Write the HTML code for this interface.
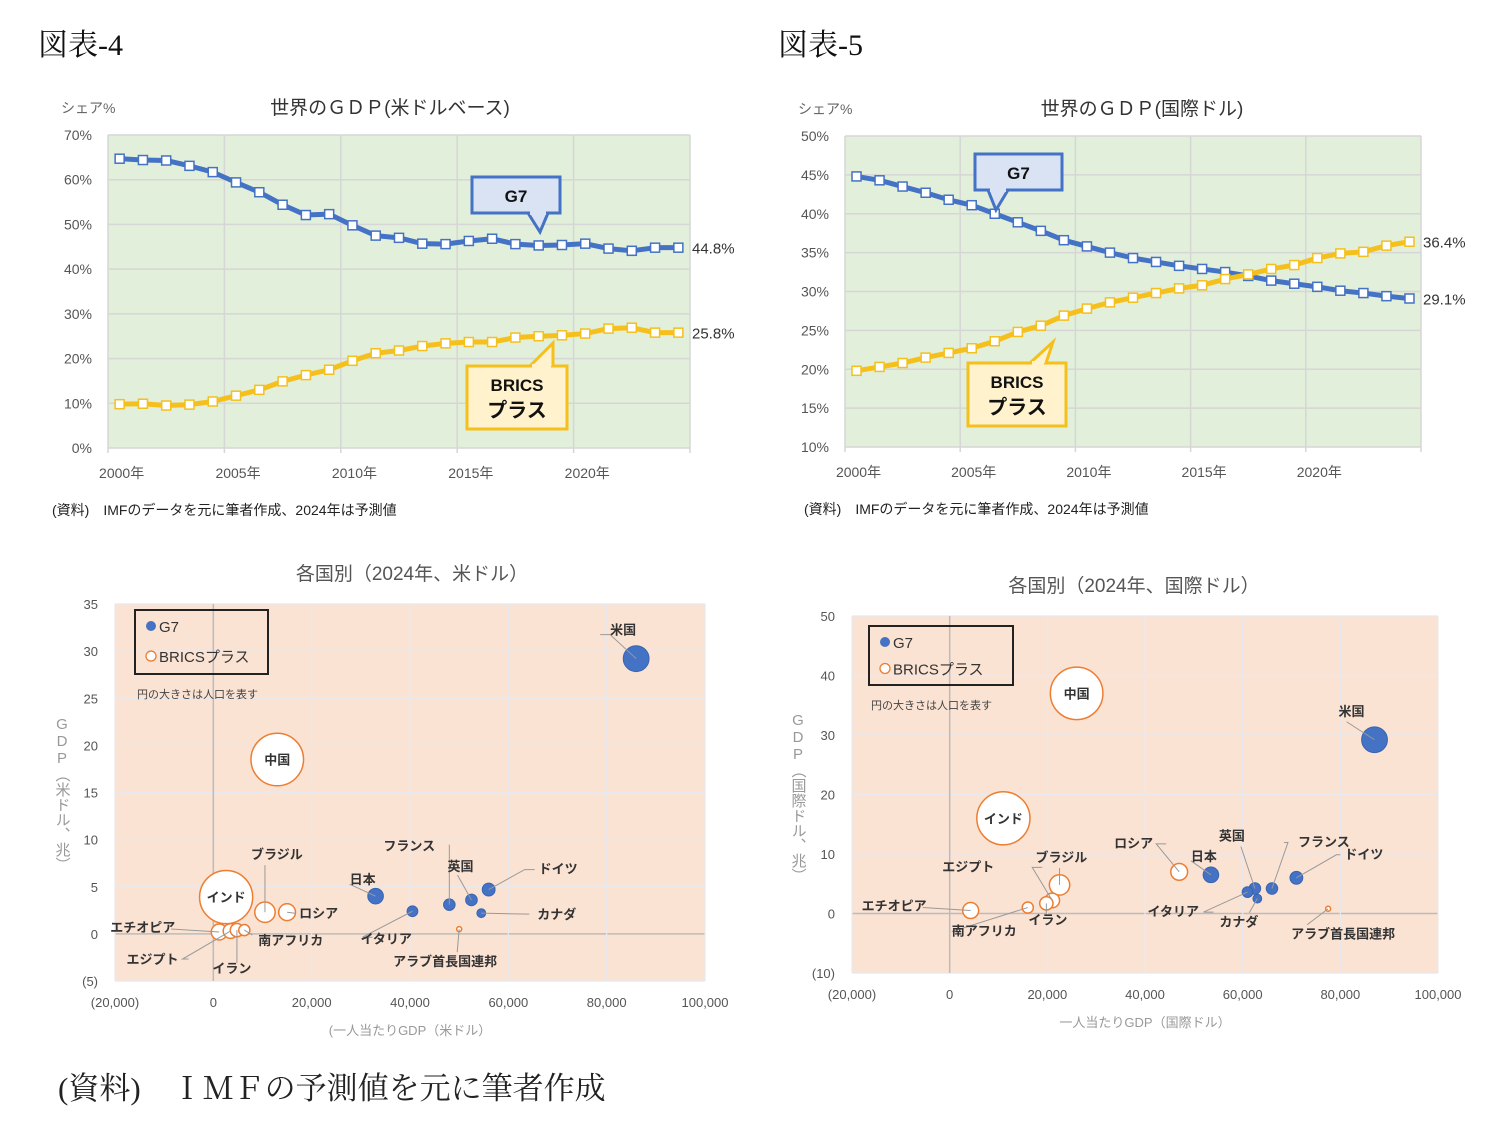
<!DOCTYPE html>
<html><head><meta charset="utf-8">
<style>
html,body{margin:0;padding:0;background:#fff;}
svg{display:block;font-family:"Liberation Sans","Noto Sans CJK JP",sans-serif;}
.ser{font-family:"Liberation Serif","Noto Serif CJK SC",serif;}
.vt{writing-mode:vertical-rl;text-orientation:upright;}
</style></head>
<body>
<svg id="page" width="1512" height="1135" viewBox="0 0 1512 1135" xmlns="http://www.w3.org/2000/svg">
<text class="ser" x="38" y="55" font-size="30" fill="#111">図表-4</text>
<text class="ser" x="778" y="55" font-size="30" fill="#111">図表-5</text>
<text x="52" y="515" font-size="14" fill="#222">(資料)　IMFのデータを元に筆者作成、2024年は予測値</text>
<text x="804" y="514" font-size="14" fill="#222">(資料)　IMFのデータを元に筆者作成、2024年は予測値</text>
<text class="ser" x="58" y="1099" font-size="31" fill="#222">(資料)　ＩＭＦの予測値を元に筆者作成</text>
<g id="c1"></g><g id="c2"></g><g id="s1"></g><g id="s2"></g>
</svg>
<script>
// ---- line chart data ----
const years = ['2000','2001','2002','2003','2004','2005','2006','2007','2008','2009','2010','2011','2012','2013','2014','2015','2016','2017','2018','2019','2020','2021','2022','2023','2024'];
const yearTicks = ['2000年','2005年','2010年','2015年','2020年'];
const g7Usd = [64.7,64.4,64.3,63.1,61.7,59.4,57.2,54.4,52.1,52.3,49.8,47.5,47.0,45.7,45.6,46.3,46.8,45.6,45.3,45.4,45.7,44.6,44.1,44.8,44.8];
const bricsUsd = [9.8,9.9,9.5,9.7,10.4,11.7,13.0,14.9,16.3,17.5,19.5,21.2,21.8,22.8,23.4,23.7,23.7,24.7,25.0,25.2,25.6,26.7,26.9,25.8,25.8];
const g7Ppp = [44.8,44.3,43.5,42.7,41.8,41.1,40.0,38.9,37.8,36.6,35.8,35.0,34.3,33.8,33.3,32.9,32.5,32.0,31.4,31.0,30.6,30.1,29.8,29.4,29.1];
const bricsPpp = [19.8,20.3,20.8,21.5,22.1,22.7,23.6,24.8,25.6,26.9,27.8,28.6,29.2,29.8,30.4,30.8,31.6,32.2,32.9,33.4,34.3,34.9,35.1,35.9,36.4];
const yTicksUsd = [0,10,20,30,40,50,60,70];
const yTicksPpp = [10,15,20,25,30,35,40,45,50];
// ---- scatter data ----
const countriesUsd = ['米国','中国','インド','ブラジル','ロシア','エチオピア','エジプト','イラン','南アフリカ','日本','イタリア','フランス','英国','ドイツ','カナダ','アラブ首長国連邦'];
const groupUsd = ['g','b','b','b','b','b','b','b','b','g','g','g','g','g','g','b'];
const perCapUsd = [86000,13000,2600,10500,15000,1200,3500,4800,6300,33000,40500,48000,52500,56000,54500,50000];
const gdpUsd = [29.2,18.5,3.9,2.3,2.3,0.2,0.3,0.4,0.4,4.0,2.4,3.1,3.6,4.7,2.2,0.5];
const popUsd = [340,1410,1440,212,144,130,110,90,63,124,59,68,69,84,40,10];
const countriesPpp = ['米国','中国','インド','ブラジル','ロシア','エチオピア','エジプト','イラン','南アフリカ','日本','イタリア','フランス','英国','ドイツ','カナダ','アラブ首長国連邦'];
const groupPpp = groupUsd;
const perCapPpp = [87000,26000,11000,22500,47000,4300,21000,19800,16000,53500,61000,66000,62500,71000,63000,77500];
const gdpPpp = [29.2,37.0,16.0,4.8,7.0,0.5,2.2,1.7,1.0,6.5,3.6,4.2,4.2,6.0,2.5,0.8];
const popPpp = popUsd;
const xTicks = [-20000,0,20000,40000,60000,80000,100000];
const yTicksS1 = [-5,0,5,10,15,20,25,30,35];
const yTicksS2 = [-10,0,10,20,30,40,50];

const NS='http://www.w3.org/2000/svg';
function mk(parent, tag, attrs, text){const e=document.createElementNS(NS,tag);for(const k in attrs)e.setAttribute(k,attrs[k]);if(text!==undefined)e.textContent=text;parent.appendChild(e);return e;}
function fmt(v){const s=Math.abs(v).toLocaleString('en-US');return v<0?'('+s+')':s;}

function lineChart(gid, L, g7, br, yt, title, callouts){
  const g=document.getElementById(gid);
  const yS=v=>L.y1-(v-yt[0])/(yt[yt.length-1]-yt[0])*(L.y1-L.y0);
  const bw=(L.x1-L.x0)/years.length;
  const xS=i=>L.x0+bw*(i+0.5);
  let r=mk(g,'rect',{x:L.x0,y:L.y0,width:L.x1-L.x0,height:L.y1-L.y0,fill:'#E2EFDA'});
  
  
  yt.forEach(v=>{
    let l=mk(g,'line',{x1:L.x0,x2:L.x1,y1:yS(v),y2:yS(v),stroke:'#d6d6d6','stroke-width':1.5});
    
    
    let t=mk(g,'text',{x:L.x0-16,y:yS(v)+5,'text-anchor':'end','font-size':14,fill:'#555'},v+'%');
    
    
  });
  for(let i=0;i<=years.length;i+=5){
    const x=L.x0+bw*i;
    let l=mk(g,'line',{x1:x,x2:x,y1:L.y0,y2:L.y1+5,stroke:'#d6d6d6','stroke-width':1.5});
    
    
  }
  yearTicks.forEach((lab,k)=>{
    let t=mk(g,'text',{x:xS(k*5)+2,y:L.y1+30,'text-anchor':'middle','font-size':14,fill:'#555'},lab);
    
    
  });
  let yt2=mk(g,'text',{x:L.x0-47,y:L.y0-22,'font-size':14,fill:'#666'},'シェア%');
  
  
  let tt=mk(g,'text',{x:L.tx,y:L.y0-21,'text-anchor':'middle','font-size':19,fill:'#333'},title);
  
  
  [[g7,'#4472C4','g7'],[br,'#F5C01C','brics']].forEach(([d,c,n])=>{
    let p=mk(g,'polyline',{points:d.map((v,i)=>xS(i)+','+yS(v)).join(' '),fill:'none',stroke:c,'stroke-width':5,'stroke-linejoin':'round'});
    
    
    d.forEach((v,i)=>{
      let m=mk(g,'rect',{x:xS(i)-4.5,y:yS(v)-4.5,width:9,height:9,fill:'#fff',stroke:c,'stroke-width':1.5});
      
      
    });
    const last=d[d.length-1];
    let lt=mk(g,'text',{x:L.x1+2,y:yS(last)+6,'font-size':15,fill:'#333'},last.toFixed(1)+'%');
    
    
  });
  callouts.forEach(c=>{
    const [bx,by,bw2,bh,px1,px2,tx,ty,dir]=c.geo;
    const yb = dir==='down'? by+bh : by;
    let path='M'+bx+','+by+' H'+(bx+bw2)+' V'+(by+bh)+' H'+bx+' Z';
    let box=mk(g,'path',{d:path,fill:c.fill,stroke:c.stroke,'stroke-width':3});
    
    
    let tri=mk(g,'path',{d:'M'+px1+','+yb+' L'+tx+','+ty+' L'+px2+','+yb,fill:c.fill,stroke:c.stroke,'stroke-width':3,'stroke-linejoin':'miter'});
    
    
    mk(g,'line',{x1:px1+2,x2:px2-2,y1:yb,y2:yb,stroke:c.fill,'stroke-width':4});
    c.lines.forEach((s,k)=>{
      let t=mk(g,'text',{x:bx+bw2/2,y:by+(c.lines.length===1?25:25+k*26),'text-anchor':'middle','font-size':c.lines.length===1?17:(k===0?17:20),'font-weight':'bold',fill:'#111'},s);
      
      
    });
  });
}
lineChart('c1',{x0:108,x1:690,y0:135,y1:448,tx:390},g7Usd,bricsUsd,yTicksUsd,'世界のＧＤＰ(米ドルベース)',[
 {name:'g7',fill:'#DAE3F3',stroke:'#4472C4',lines:['G7'],geo:[472,177,88,36,528,548,540,232,'down']},
 {name:'brics',fill:'#FFF2CC',stroke:'#F5C01C',lines:['BRICS','プラス'],geo:[467,366,100,63,530,553,553,343,'up']}
]);
lineChart('c2',{x0:845,x1:1421,y0:136,y1:447,tx:1142},g7Ppp,bricsPpp,yTicksPpp,'世界のＧＤＰ(国際ドル)',[
 {name:'g7',fill:'#DAE3F3',stroke:'#4472C4',lines:['G7'],geo:[975,154,87,36,988,1008,996,210,'down']},
 {name:'brics',fill:'#FFF2CC',stroke:'#F5C01C',lines:['BRICS','プラス'],geo:[968,363,98,63,1030,1046,1053,342,'up']}
]);

function scatter(gid,L,names,grp,xs,ys,pop,yt,title,xtitle,ytitle,labels){
  const g=document.getElementById(gid);
  const xS=v=>L.x0+(v-xTicks[0])/(xTicks[xTicks.length-1]-xTicks[0])*(L.x1-L.x0);
  const yS=v=>L.y1-(v-yt[0])/(yt[yt.length-1]-yt[0])*(L.y1-L.y0);
  const rS=p=>Math.max(2.5,Math.sqrt(p)*0.7);
  let r=mk(g,'rect',{x:L.x0,y:L.y0,width:L.x1-L.x0,height:L.y1-L.y0,fill:'#FBE3D4'});
  
  
  yt.forEach(v=>{
    let l=mk(g,'line',{x1:L.x0,x2:L.x1,y1:yS(v),y2:yS(v),stroke:v===0?'#bbb':'#e8e8ee','stroke-width':v===0?1.5:1.2});
    
    
    let t=mk(g,'text',{x:L.x0-17,y:yS(v)+5,'text-anchor':'end','font-size':13,fill:'#555'},fmt(v));
    
    
  });
  xTicks.forEach(v=>{
    let l=mk(g,'line',{x1:xS(v),x2:xS(v),y1:L.y0,y2:L.y1,stroke:v===0?'#bbb':'#e8e8ee','stroke-width':v===0?1.5:1.2});
    
    
    let t=mk(g,'text',{x:xS(v),y:L.y1+26,'text-anchor':'middle','font-size':13,fill:'#555'},fmt(v));
    
    
  });
  let tt=mk(g,'text',{x:L.tx,y:L.y0-24,'text-anchor':'middle','font-size':19,fill:'#555'},title);
  
  
  let xt=mk(g,'text',{x:(L.x0+L.x1)/2,y:L.y1+54,'text-anchor':'middle','font-size':13,fill:'#999'},xtitle);
  
  
  let yg=mk(g,'text',{x:L.yx,y:L.yy,'font-size':15,fill:'#999','class':'vt'},ytitle);
  
  
  // legend
  const [lx,ly,lw,lh]=L.leg;
  let lb=mk(g,'rect',{x:lx,y:ly,width:lw,height:lh,fill:'none',stroke:'#222','stroke-width':2});
  
  
  let c1=mk(g,'circle',{cx:lx+16,cy:ly+16,r:5,fill:'#4472C4'});
  
  
  let t1=mk(g,'text',{x:lx+24,y:ly+22,'font-size':15,fill:'#333'},'G7');
  
  
  let c2=mk(g,'circle',{cx:lx+16,cy:ly+lh*0.72,r:5,fill:'#fff',stroke:'#ED7D31','stroke-width':1.3});
  
  
  let t2=mk(g,'text',{x:lx+24,y:ly+lh*0.72+6,'font-size':15,fill:'#333'},'BRICSプラス');
  
  
  let note=mk(g,'text',{x:lx+2,y:ly+lh+24,'font-size':11,fill:'#444'},'円の大きさは人口を表す');
  
  
  const order=names.map((_,i)=>i).sort((a,b)=>pop[b]-pop[a]);
  order.forEach(i=>{
    const cx=xS(xs[i]),cy=yS(ys[i]),rr=rS(pop[i]);
    let c=mk(g,'circle',grp[i]==='g'?{cx:cx,cy:cy,r:rr,fill:'#4472C4',stroke:'#3a64b0','stroke-width':1}:{cx:cx,cy:cy,r:rr,fill:'#fff',stroke:'#ED7D31','stroke-width':1.5});
    
    
  });
  names.forEach((n,i)=>{
    const lab=labels[i]; const cx=xS(xs[i]),cy=yS(ys[i]);
    if(lab.inside){
      let t=mk(g,'text',{x:cx,y:cy+5,'text-anchor':'middle','font-size':13,'font-weight':'bold',fill:'#333'},n);
      
      
      return;
    }
    const tx=cx+lab.dx, ty=cy+lab.dy;
    let ln=mk(g,'polyline',{points:cx+','+cy+' '+(tx+lab.lx)+','+(ty+lab.ly)+' '+(tx+lab.lx2)+','+(ty+lab.ly),fill:'none',stroke:'#999','stroke-width':1});
    
    
    let t=mk(g,'text',{x:tx,y:ty,'text-anchor':lab.a||'start','font-size':13,'font-weight':'bold',fill:'#333'},n);
    
    
  });
}
const lay1=[
 {dx:-26,dy:-24,lx:0,lx2:-10,ly:0,a:'start'},{inside:1},{inside:1},
 {dx:-14,dy:-53,lx:14,lx2:14,ly:6,a:'start'},{dx:12,dy:6,lx:-4,lx2:-4,ly:-5,a:'start'},
 {dx:-44,dy:0,lx:-4,lx2:-4,ly:-3,a:'end'},{dx:-52,dy:33,lx:4,lx2:10,ly:-5,a:'end'},
 {dx:-5,dy:43,lx:5,lx2:5,ly:-10,a:'middle'},{dx:14,dy:15,lx:-6,lx2:-6,ly:-10,a:'start'},
 {dx:-26,dy:-12,lx:0,lx2:0,ly:0,a:'start'},{dx:-52,dy:32,lx:2,lx2:12,ly:-6,a:'start'},
 {dx:-66,dy:-54,lx:66,lx2:66,ly:-6,a:'start'},{dx:-24,dy:-29,lx:10,lx2:10,ly:4,a:'start'},
 {dx:50,dy:-16,lx:-14,lx2:-4,ly:-4,a:'start'},{dx:56,dy:6,lx:-8,lx2:-8,ly:-5,a:'start'},
 {dx:-66,dy:37,lx:64,lx2:64,ly:-14,a:'start'}];
const lay2=[
 {dx:-36,dy:-24,lx:8,lx2:8,ly:6,a:'start'},{inside:1},{inside:1},
 {dx:-24,dy:-23,lx:24,lx2:24,ly:6,a:'start'},{dx:-65,dy:-24,lx:42,lx2:52,ly:-4,a:'start'},
 {dx:-44,dy:0,lx:-4,lx2:-4,ly:-3,a:'end'},{dx:-58,dy:-29,lx:38,lx2:48,ly:-4,a:'end'},
 {dx:-18,dy:21,lx:18,lx2:18,ly:-10,a:'start'},{dx:-76,dy:28,lx:0,lx2:6,ly:-4,a:'start'},
 {dx:-20,dy:-14,lx:0,lx2:0,ly:0,a:'start'},{dx:-100,dy:24,lx:56,lx2:66,ly:-4,a:'start'},
 {dx:26,dy:-42,lx:-10,lx2:-14,ly:-4,a:'start'},{dx:-36,dy:-48,lx:22,lx2:22,ly:6,a:'start'},
 {dx:48,dy:-19,lx:-8,lx2:-4,ly:-4,a:'start'},{dx:-38,dy:28,lx:30,lx2:30,ly:-14,a:'start'},
 {dx:-37,dy:30,lx:16,lx2:16,ly:-14,a:'start'}];
scatter('s1',{x0:115,x1:705,y0:604,y1:981,tx:412,leg:[135,610,133,64],yx:62,yy:716},countriesUsd,groupUsd,perCapUsd,gdpUsd,popUsd,yTicksS1,'各国別（2024年、米ドル）','(一人当たりGDP（米ドル）','GDP（米ドル、兆）',lay1);
scatter('s2',{x0:852,x1:1438,y0:616,y1:973,tx:1134,leg:[869,626,144,59],yx:798,yy:712},countriesPpp,groupPpp,perCapPpp,gdpPpp,popPpp,yTicksS2,'各国別（2024年、国際ドル）','一人当たりGDP（国際ドル）','GDP（国際ドル、兆）',lay2);
</script>
</body></html>
